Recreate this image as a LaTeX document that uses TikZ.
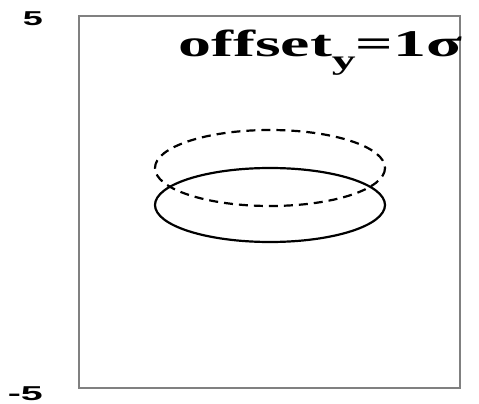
\documentclass[tikz,border=0pt]{standalone}
\usepackage{fontspec}
\usepackage{graphicx}
\setmainfont{Liberation Serif}
\newfontfamily\axfont{Liberation Sans}
\begin{document}
\begin{tikzpicture}[x=1pt,y=-1pt,
  frame/.style={draw=black!50,line width=1.5pt},
  curve/.style={draw=black,line width=2.2pt},
  ticklab/.style={font=\axfont\bfseries\fontsize{20}{20}\selectfont,inner sep=0pt}]
\useasboundingbox (0,0) rectangle (479,404);
\draw[frame] (79,16) rectangle (460,388);
\node[ticklab,anchor=north east] (top) at (43,11) {\resizebox*{20pt}{14pt}{5}};
\node[ticklab,anchor=north east] (bot) at (43,386) {\resizebox*{35pt}{14pt}{-5}};
\draw[curve] (270,205) ellipse [x radius=115,y radius=37];
\draw[curve,dash pattern=on 9pt off 6pt] (270,168) ellipse [x radius=115,y radius=38];
\node[anchor=north west,inner sep=0pt,font=\bfseries\fontsize{36}{36}\selectfont] (title) at (178,30)
  {\resizebox*{284pt}{45pt}{offset\raisebox{-12pt}{\fontsize{26}{26}\selectfont y}=1σ}};
\end{tikzpicture}
\end{document}
